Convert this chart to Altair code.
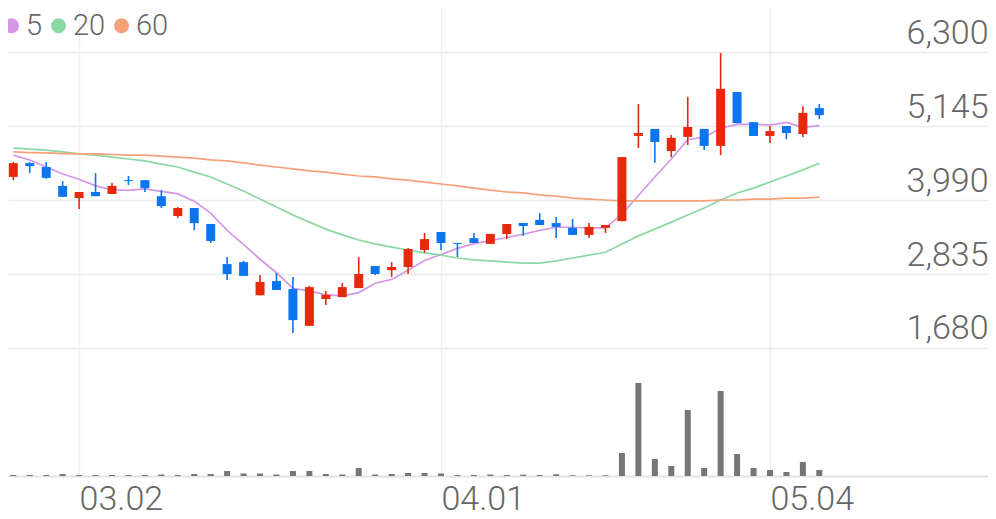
import altair as alt
import pandas as pd

# ---- data ----
opens = [4350, 4565, 4505, 4210, 4020, 4115, 4085, 4300, 4300, 4050,
         3740, 3865, 3615, 2990, 3020, 2505, 2725, 2600, 2025, 2445,
         2475, 2615, 2960, 2895, 2945, 3210, 3490, 3320, 3395, 3305,
         3460, 3630, 3680, 3630, 3555, 3445, 3555, 3660, 4990, 5100,
         4755, 4975, 5100, 4835, 5675, 5205, 4990, 5145, 5020, 5425]
highs = [4585, 4580, 4585, 4285, 4115, 4410, 4255, 4365, 4300, 4145,
         3880, 3865, 3615, 3100, 3040, 2820, 2850, 2790, 2650, 2570,
         2695, 3100, 2960, 3020, 3240, 3475, 3490, 3320, 3475, 3460,
         3615, 3630, 3785, 3725, 3695, 3630, 3600, 4660, 5490, 5100,
         5005, 5600, 5100, 6285, 5675, 5205, 5145, 5145, 5455, 5490]
lows = [4300, 4410, 4320, 4035, 3850, 4050, 4085, 4225, 4115, 3865,
        3710, 3520, 3320, 2740, 2805, 2505, 2585, 1915, 2025, 2350,
        2475, 2615, 2820, 2790, 2835, 3165, 3210, 3100, 3320, 3305,
        3380, 3430, 3600, 3395, 3445, 3395, 3475, 3660, 4800, 4570,
        4660, 4850, 4770, 4690, 5190, 4990, 4880, 4940, 4975, 5255]
closes = [4565, 4520, 4335, 4040, 4115, 4050, 4210, 4285, 4175, 3895,
          3865, 3630, 3350, 2835, 2805, 2710, 2585, 2115, 2630, 2510,
          2630, 2835, 2835, 2945, 3225, 3380, 3320, 3305, 3320, 3460,
          3615, 3585, 3600, 3570, 3445, 3570, 3600, 4660, 5035, 4895,
          4960, 5130, 4835, 5725, 5190, 4990, 5065, 5035, 5350, 5315]
volumes = [10000, 10000, 10000, 20000, 10000, 10000, 10000, 10000, 10000, 15000,
           10000, 20000, 20000, 50000, 25000, 25000, 15000, 50000, 50000, 20000,
           15000, 80000, 15000, 20000, 30000, 30000, 25000, 10000, 10000, 15000,
           10000, 13000, 10000, 17000, 7000, 7000, 7000, 230000, 930000, 170000,
           100000, 660000, 80000, 850000, 220000, 80000, 60000, 40000, 140000, 60000]
ma5 = [4690, 4615, 4505, 4395, 4315, 4210, 4150, 4140, 4165, 4125,
       4085, 3970, 3785, 3515, 3295, 3065, 2855, 2610, 2570, 2510,
       2495, 2545, 2690, 2750, 2895, 3045, 3140, 3235, 3310, 3355,
       3405, 3455, 3515, 3565, 3565, 3555, 3555, 3770, 4060, 4350,
       4630, 4935, 4970, 5110, 5170, 5175, 5160, 5200, 5125, 5150]
ma20 = [4800, 4785, 4770, 4740, 4710, 4690, 4660, 4630, 4600, 4550,
        4505, 4425, 4350, 4240, 4130, 4005, 3880, 3755, 3645, 3535,
        3445, 3365, 3305, 3255, 3210, 3165, 3130, 3085, 3055, 3040,
        3020, 3005, 3005, 3040, 3085, 3130, 3175, 3305, 3430, 3535,
        3645, 3755, 3865, 3990, 4100, 4175, 4270, 4365, 4460, 4565]
ma60 = [4740, 4730, 4725, 4715, 4710, 4710, 4700, 4690, 4690, 4675,
        4660, 4645, 4615, 4600, 4570, 4535, 4505, 4475, 4445, 4425,
        4395, 4365, 4350, 4320, 4300, 4270, 4240, 4210, 4175, 4145,
        4115, 4100, 4070, 4050, 4020, 4005, 3990, 3975, 3975, 3975,
        3975, 3975, 3975, 3990, 3990, 4005, 4005, 4020, 4020, 4035]
ma_names = ["5", "20", "60"]
ma_colors = ["#d596e8", "#8ad9a2", "#f5a27b"]
tick_idx = [4, 26, 46]
tick_labels = ["03.02", "04.01", "05.04"]
price_ticks = [1680, 2835, 3990, 5145, 6300]

UP_COLOR = "#e5290a"
DOWN_COLOR = "#0b75ee"

# ---- tables ----
n = len(closes)
candles = pd.DataFrame({
    "i": list(range(n)), "open": opens, "high": highs, "low": lows,
    "close": closes, "vol": volumes,
})

ma_rows = []
for name, series in zip(ma_names, [ma5, ma20, ma60]):
    for i, v in enumerate(series):
        ma_rows.append({"i": i, "ma": name, "value": v})
ma_df = pd.DataFrame(ma_rows)

TEXT = "#666666"
FONT = "Roboto"

label_expr = "".join(
    f"datum.value == {t} ? '{l}' : " for t, l in zip(tick_idx, tick_labels)
) + "''"

x_enc = alt.X(
    "i:Q",
    scale=alt.Scale(domain=[-0.018, 58.95], nice=False, zero=False),
    axis=alt.Axis(
        values=tick_idx, labelExpr=label_expr, title=None,
        grid=True, gridColor="#efefef", gridWidth=1.5,
        ticks=False, tickSize=0, domain=True, domainColor="#e3e3e3", domainWidth=2,
        labelFont=FONT, labelFontSize=34, labelFontWeight=300, labelColor=TEXT,
        labelAlign="left", labelBaseline="alphabetic", labelPadding=33,
        labelFlush=False, labelOverlap=False,
    ),
)

price_scale = alt.Scale(domain=[-318, 6987], nice=False, zero=False)
price_axis = alt.Axis(
    orient="right", values=price_ticks, labelExpr="format(datum.value, ',')",
    title=None, grid=True, gridColor="#ebebeb", gridWidth=1.5,
    domain=False, ticks=False, tickSize=0,
    labelFont=FONT, labelFontSize=34, labelFontWeight=300, labelColor=TEXT,
    labelAlign="right", labelBaseline="alphabetic", labelOffset=-9, labelPadding=0,
    labelOverlap=False,
)

dir_color = alt.condition(
    "datum.close >= datum.open", alt.value(UP_COLOR), alt.value(DOWN_COLOR)
)

ma_color_scale = alt.Scale(domain=ma_names, range=ma_colors)

ma_lines = alt.Chart(ma_df).mark_line(strokeWidth=1.7).encode(
    x=x_enc,
    y=alt.Y("value:Q", scale=price_scale, axis=price_axis),
    color=alt.Color("ma:N", scale=ma_color_scale, legend=None),
    detail="ma:N",
)

ma_legend = alt.Chart(ma_df).mark_circle(size=0).encode(
    x=x_enc,
    y=alt.Y("value:Q", scale=price_scale, axis=price_axis),
    color=alt.Color(
        "ma:N", scale=ma_color_scale,
        legend=alt.Legend(
            orient="none", legendX=-11, legendY=3, direction="horizontal",
            title=None, symbolType="circle", symbolSize=225, symbolStrokeWidth=0,
            symbolOpacity=1,
            labelFont=FONT, labelFontSize=29, labelFontWeight=300, labelColor=TEXT,
            labelOffset=0, columnPadding=1, padding=0,
        ),
    ),
)

wicks = alt.Chart(candles).mark_rule(strokeWidth=1.6).encode(
    x=x_enc,
    y=alt.Y("low:Q", scale=price_scale, axis=price_axis),
    y2="high:Q",
    color=dir_color,
)

bodies = alt.Chart(candles).mark_bar(size=9).encode(
    x=x_enc,
    y=alt.Y("open:Q", scale=price_scale, axis=price_axis),
    y2="close:Q",
    color=dir_color,
)

price_layer = alt.layer(ma_lines, ma_legend, wicks, bodies).resolve_scale(
    color="independent"
)

volume_layer = alt.Chart(candles).mark_bar(size=6, color="#767676").encode(
    x=x_enc,
    y=alt.Y("vol:Q", scale=alt.Scale(domain=[0, 4680000], nice=False), axis=None),
)

chart = alt.layer(price_layer, volume_layer).resolve_scale(
    y="independent"
).properties(
    width=980, height=468,
    autosize=alt.AutoSizeParams(type="none"),
    padding={"left": 0, "top": 0, "right": 0, "bottom": 40},
    background="white",
).configure_view(stroke=None)

chart.save("out.html", embed_options={"renderer": "svg", "actions": False})
